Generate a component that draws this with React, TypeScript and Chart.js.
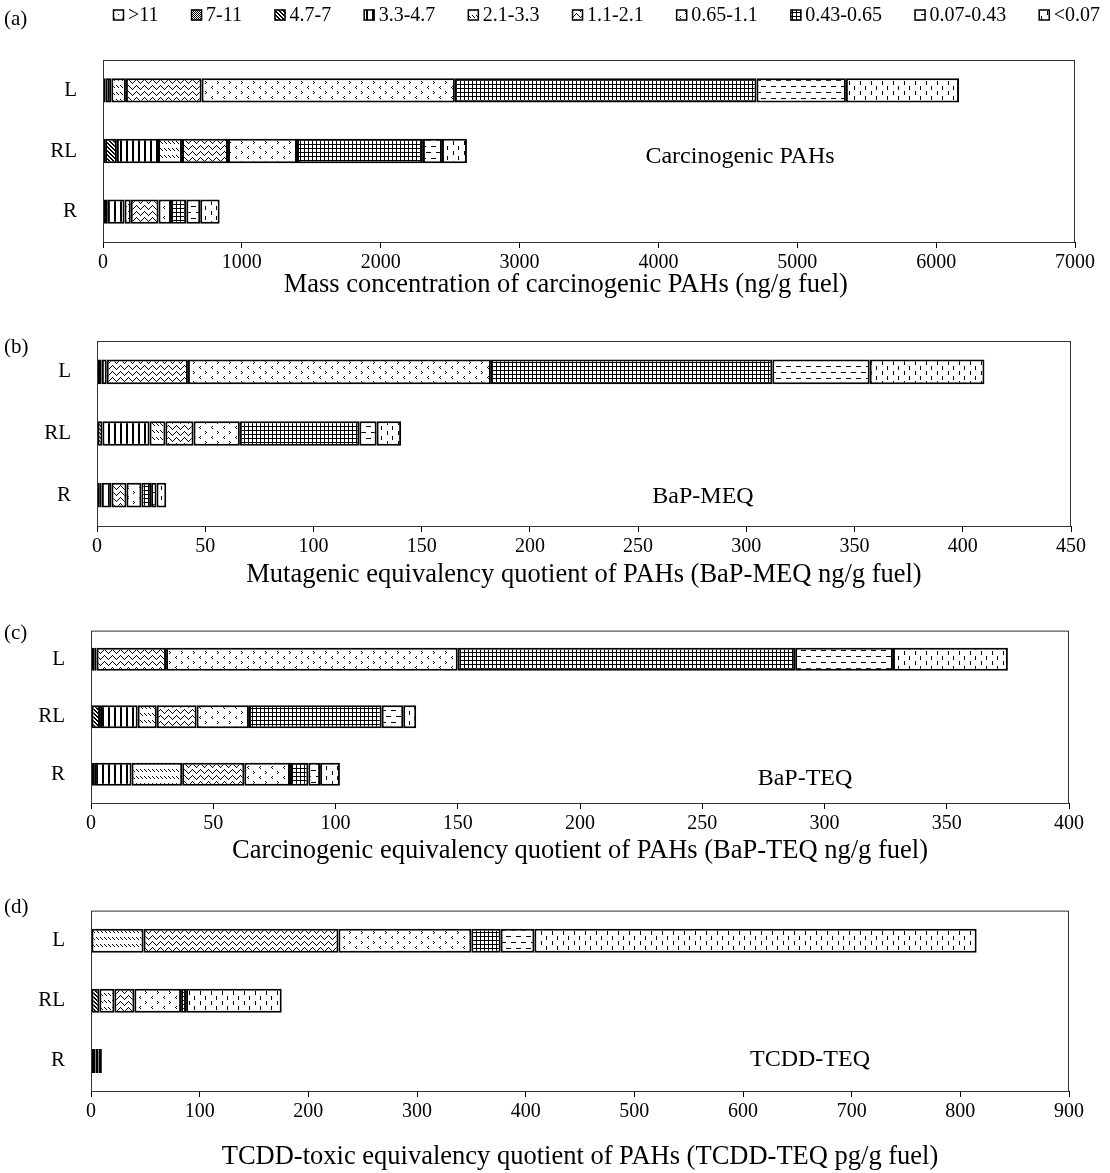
import React, { useEffect, useRef } from "react";
import { Chart, registerables } from "chart.js";
Chart.register(...registerables);

const categories = ["L", "RL", "R"];
const bins = [">11", "7-11", "4.7-7", "3.3-4.7", "2.1-3.3", "1.1-2.1", "0.65-1.1", "0.43-0.65", "0.07-0.43", "<0.07"];

// (a) mass concentration, ng/g fuel — one array per bar, values per bin
const massL = [0, 20, 0, 40, 105, 545, 1824, 2172, 644, 815];
const massRL = [0, 15, 85, 296, 173, 331, 497, 907, 137, 180];
const massR = [0, 30, 0, 125, 45, 200, 90, 110, 100, 140];
// (b) BaP-MEQ
const meqL = [0, 2, 0, 2.5, 0, 37.5, 140, 130, 45, 53];
const meqRL = [0, 0, 2.5, 21.8, 7.3, 13, 21.4, 55.2, 8, 11.3];
const meqR = [0, 1, 1, 4.7, 0, 6.9, 6.9, 4.5, 2.5, 4.5];
// (c) BaP-TEQ
const teqL = [0, 1.3, 0, 1, 0, 28.4, 119.3, 138, 40, 47];
const teqRL = [0, 0, 3.7, 15.4, 7.8, 16.3, 21.4, 54.3, 8.8, 5.3];
const teqR = [0, 1.6, 0, 15, 20.7, 25.4, 18.7, 7.5, 4.8, 8.1];
// (d) TCDD-TEQ
const tcddL = [0, 0, 0, 0, 48.4, 179.3, 122.3, 27, 31, 407];
const tcddRL = [0, 0, 7.7, 0, 13.8, 18.4, 43, 4.6, 0, 88];
const tcddR = [0, 0, 4, 0, 3, 0, 0, 0, 0, 3];

const axisMax = [7000, 450, 400, 900];
const axisStep = [1000, 50, 50, 100];
const axisTitles = [
  "Mass concentration of carcinogenic PAHs (ng/g fuel)\u00a0\u00a0\u00a0\u00a0\u00a0\u00a0\u00a0",
  "Mutagenic equivalency quotient of PAHs (BaP-MEQ ng/g fuel)",
  "Carcinogenic equivalency quotient of PAHs (BaP-TEQ ng/g fuel)",
  "TCDD-toxic equivalency quotient of PAHs (TCDD-TEQ pg/g fuel)",
];
const panelLabels = ["(a)", "(b)", "(c)", "(d)"];
const noteTexts = ["Carcinogenic PAHs", "BaP-MEQ", "BaP-TEQ", "TCDD-TEQ"];

const FONT = '"Liberation Serif", "Times New Roman", serif';
const W = 1110;

type Layout = { top: number; height: number; left: number; right: number; boxTop: number; boxBottom: number; noteX: number; noteY: number; labelY: number; titlePad: number };
const layouts: Layout[] = [
  { top: 0, height: 304, left: 103, right: 1075, boxTop: 60, boxBottom: 242, noteX: 740, noteY: 155, labelY: 18, titlePad: 3 },
  { top: 310, height: 284, left: 97, right: 1071, boxTop: 341, boxBottom: 526, noteX: 703, noteY: 495, labelY: 346, titlePad: 3 },
  { top: 600, height: 270, left: 91, right: 1069, boxTop: 625, boxBottom: 803, noteX: 805, noteY: 777, labelY: 632, titlePad: 3 },
  { top: 880, height: 293, left: 91, right: 1069, boxTop: 907, boxBottom: 1091, noteX: 810, noteY: 1058, labelY: 906, titlePad: 0 },
];

function makePattern(kind: number): CanvasPattern | string {
  const c = document.createElement("canvas");
  const sizes: [number, number][] = [[8, 8], [2, 2], [4, 4], [6, 1], [4, 7], [8, 6], [12, 10], [4, 4], [10, 12], [11, 10]];
  const [w, h] = sizes[kind];
  c.width = w;
  c.height = h;
  const g = c.getContext("2d");
  if (!g) return "#fff";
  g.fillStyle = "#fff";
  g.fillRect(0, 0, w, h);
  g.fillStyle = "#000";
  const px = (x: number, y: number) => g.fillRect(x, y, 1, 1);
  switch (kind) {
    case 0:
      px(2, 2);
      px(6, 6);
      break;
    case 1:
      px(0, 0);
      px(1, 1);
      break;
    case 2:
      for (let y = 0; y < h; y++) for (let x = 0; x < w; x++) {
        const d = (((x - y) % 4) + 4) % 4;
        if (d === 0 || d === 1) px(x, y);
      }
      break;
    case 3:
      g.fillRect(0, 0, 2, 1);
      break;
    case 4:
      px(0, 1); px(1, 2); px(2, 3);
      break;
    case 5:
      for (let x = 0; x < 8; x++) {
        const y = x < 4 ? x : 8 - x;
        px(x, y + 1);
      }
      break;
    case 6:
      px(1, 1); px(2, 2); px(1, 3);
      px(8, 6); px(7, 7); px(8, 8);
      break;
    case 7:
      g.fillRect(0, 0, 4, 1);
      g.fillRect(0, 0, 1, 4);
      break;
    case 8:
      g.fillRect(1, 2, 5, 1);
      g.fillRect(6, 8, 4, 1);
      g.fillRect(0, 8, 1, 1);
      break;
    case 9:
      g.fillRect(2, 1, 1, 4);
      g.fillRect(7, 6, 1, 4);
      break;
  }
  const p = g.createPattern(c, "repeat");
  return p || "#fff";
}

function PanelChart({ index, rows }: { index: number; rows: number[][] }) {
  const ref = useRef<HTMLCanvasElement | null>(null);
  const L = layouts[index];
  useEffect(() => {
    const canvas = ref.current;
    if (!canvas) return;
    const patterns = bins.map((_, i) => makePattern(i));
    const frame = {
      id: "frame" + index,
      afterDatasetsDraw(chart: any) {
        const { ctx, chartArea } = chart;
        ctx.save();
        ctx.strokeStyle = "#333";
        ctx.lineWidth = 1;
        ctx.strokeRect(chartArea.left + 0.5, chartArea.top + 0.5, chartArea.right - chartArea.left - 1, chartArea.bottom - chartArea.top);
        ctx.restore();
      },
    };
    const legendPlugin = {
      id: "customLegend" + index,
      afterDraw(chart: any) {
        if (index !== 0) return;
        const ctx = chart.ctx as CanvasRenderingContext2D;
        ctx.save();
        ctx.font = `20px ${FONT}`;
        ctx.textBaseline = "middle";
        const box = 11;
        const gapIn = 4;
        const widths = bins.map((b) => ctx.measureText(b).width);
        const total = widths.reduce((a, b) => a + b, 0) + bins.length * (box + gapIn);
        const startX = 113;
        const endX = 1100;
        const gap = (endX - startX - total) / (bins.length - 1);
        let x = startX;
        const cy = 15;
        bins.forEach((b, i) => {
          ctx.fillStyle = patterns[i] as any;
          ctx.fillRect(x, cy - box / 2, box, box);
          ctx.strokeStyle = "#000";
          ctx.lineWidth = 1.5;
          ctx.strokeRect(x + 0.5, cy - box / 2 + 0.5, box - 1, box - 1);
          ctx.fillStyle = "#000";
          ctx.fillText(b, x + box + gapIn, cy + 1);
          x += box + gapIn + widths[i] + gap;
        });
        ctx.restore();
      },
    };
    const chart = new Chart(canvas, {
      type: "bar",
      data: {
        labels: categories,
        datasets: bins.map((b, i) => ({
          label: b,
          data: rows.map((r) => r[i]),
          backgroundColor: patterns[i] as any,
          borderColor: "#000",
          borderWidth: 2,
          borderSkipped: false,
          barPercentage: 0.4,
          categoryPercentage: 1,
        })),
      },
      options: {
        responsive: false,
        animation: false,
        indexAxis: "y",
        layout: { padding: { top: L.boxTop - L.top, right: W - L.right, bottom: 0, left: 0 } },
        plugins: { legend: { display: false }, tooltip: { enabled: false } },
        scales: {
          x: {
            stacked: true,
            min: 0,
            max: axisMax[index],
            ticks: {
              stepSize: axisStep[index],
              color: "#000",
              font: { family: FONT, size: 20 },
              padding: 3,
              maxRotation: 0,
              autoSkip: false,
              callback: (v: any) => String(v),
            },
            grid: { drawOnChartArea: false, drawTicks: true, tickLength: 6, color: "#000" },
            border: { display: true, color: "#000", width: 1 },
            title: { display: true, text: axisTitles[index], color: "#000", font: { family: FONT, size: 26.5 }, padding: { top: 0, bottom: L.titlePad } },
            afterFit: (s: any) => {
              s.height = L.top + L.height - L.boxBottom;
            },
          },
          y: {
            stacked: true,
            ticks: { color: "#000", font: { family: FONT, size: 21 }, padding: 18 },
            grid: { display: false },
            border: { display: false },
            afterFit: (s: any) => {
              s.width = L.left;
            },
          },
        },
      },
      plugins: [frame, legendPlugin],
    } as any);
    return () => chart.destroy();
  }, [index, rows]);
  return (
    <>
      <canvas ref={ref} width={W} height={L.height} style={{ position: "absolute", left: 0, top: L.top, width: W, height: L.height }} />
      <div style={{ position: "absolute", left: 4, top: L.labelY, transform: "translateY(-50%)", fontFamily: FONT, fontSize: 21, color: "#000", lineHeight: 1 }}>
        {panelLabels[index]}
      </div>
      <div style={{ position: "absolute", left: L.noteX, top: L.noteY, transform: "translate(-50%,-50%)", fontFamily: FONT, fontSize: 24, color: "#000", whiteSpace: "nowrap", lineHeight: 1 }}>
        {noteTexts[index]}
      </div>
    </>
  );
}

const panelRows = [
  [massL, massRL, massR],
  [meqL, meqRL, meqR],
  [teqL, teqRL, teqR],
  [tcddL, tcddRL, tcddR],
];

export default function App() {
  return (
    <div style={{ position: "absolute", left: 0, top: 0, width: W, height: 1173, background: "#fff", overflow: "hidden" }}>
      {panelRows.map((rows, i) => (
        <PanelChart key={i} index={i} rows={rows} />
      ))}
    </div>
  );
}
